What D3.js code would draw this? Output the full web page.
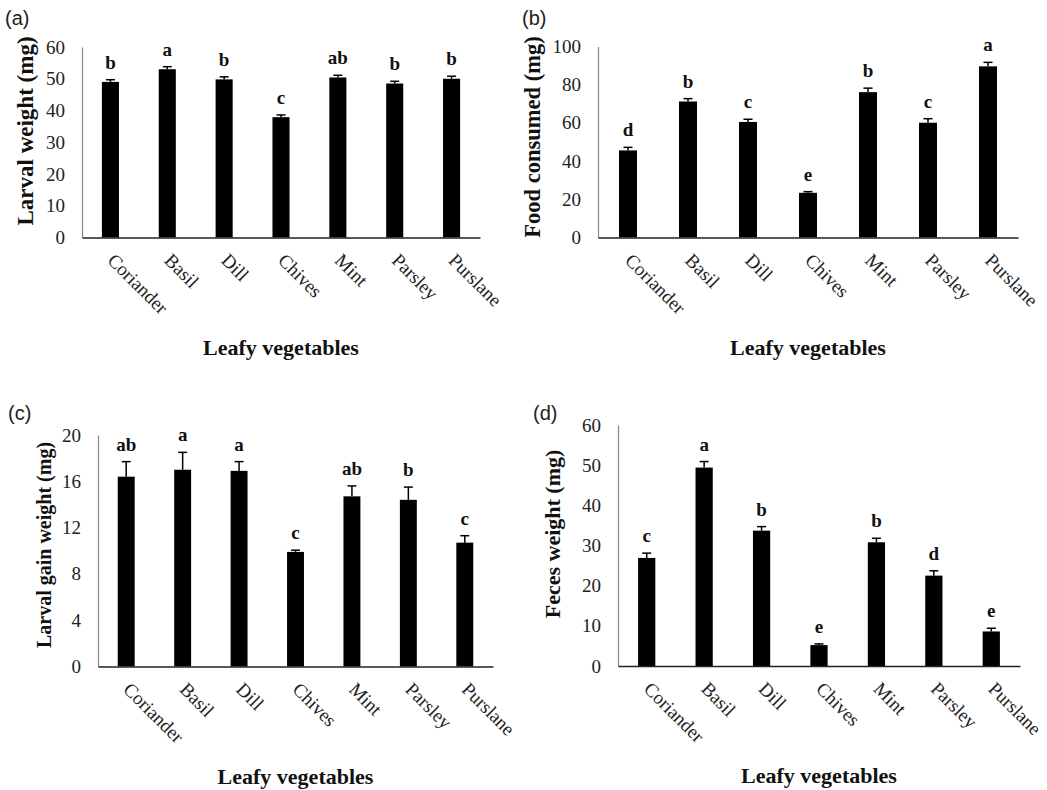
<!DOCTYPE html>
<html>
<head>
<meta charset="utf-8">
<script src="https://cdn.jsdelivr.net/npm/d3@7"></script>
<style>
  html, body { margin: 0; padding: 0; background: #fff; }
  svg { display: block; }
</style>
</head>
<body>
<svg id="chart" width="1047" height="790"></svg>
<script>
// ---------------- DATA ----------------
const categories = ["Coriander", "Basil", "Dill", "Chives", "Mint", "Parsley", "Purslane"];

const larvalWeight       = [49.0, 53.0, 49.8, 37.9, 50.4, 48.5, 50.0];
const larvalWeightErr    = [0.7, 0.8, 0.8, 0.7, 0.7, 0.7, 0.8];
const larvalWeightLetters = ["b", "a", "b", "c", "ab", "b", "b"];
const larvalWeightTicks  = [0, 10, 20, 30, 40, 50, 60];

const foodConsumed        = [45.6, 71.2, 60.5, 23.4, 76.1, 60.1, 89.6];
const foodConsumedErr     = [1.6, 1.5, 1.4, 0.6, 2.1, 2.1, 2.1];
const foodConsumedLetters = ["d", "b", "c", "e", "b", "c", "a"];
const foodConsumedTicks   = [0, 20, 40, 60, 80, 100];

const gainWeight        = [16.4, 17.0, 16.9, 9.9, 14.7, 14.4, 10.7];
const gainWeightErr     = [1.3, 1.5, 0.8, 0.15, 0.9, 1.1, 0.6];
const gainWeightLetters = ["ab", "a", "a", "c", "ab", "b", "c"];
const gainWeightTicks   = [0, 4, 8, 12, 16, 20];

const fecesWeight        = [26.9, 49.4, 33.7, 5.2, 30.8, 22.5, 8.6];
const fecesWeightErr     = [1.2, 1.5, 1.0, 0.3, 1.0, 1.2, 0.8];
const fecesWeightLetters = ["c", "a", "b", "e", "b", "d", "e"];
const fecesWeightTicks   = [0, 10, 20, 30, 40, 50, 60];

const xTitle = "Leafy vegetables";

// ---------------- LAYOUT ----------------
const SERIF = "'Liberation Serif', 'Times New Roman', serif";
const SANS = "'Liberation Sans', Arial, sans-serif";

const panels = [
  { tag: "(a)", tagX: 5, tagY: 25, x0: 82, x1: 480, yBase: 237.5, yTop: 47,
    values: larvalWeight, errs: larvalWeightErr, letters: larvalWeightLetters, ticks: larvalWeightTicks,
    yTitle: "Larval weight (mg)", yTitleX: 25, yTitleY: 131, yTitleSize: 23 },
  { tag: "(b)", tagX: 522, tagY: 25, x0: 598, x1: 1018, yBase: 237.5, yTop: 46.5,
    values: foodConsumed, errs: foodConsumedErr, letters: foodConsumedLetters, ticks: foodConsumedTicks,
    yTitle: "Food consumed (mg)", yTitleX: 532, yTitleY: 137, yTitleSize: 22.5 },
  { tag: "(c)", tagX: 8, tagY: 420, x0: 98, x1: 493, yBase: 666.5, yTop: 435,
    values: gainWeight, errs: gainWeightErr, letters: gainWeightLetters, ticks: gainWeightTicks,
    yTitle: "Larval gain weight (mg)", yTitleX: 44, yTitleY: 545, yTitleSize: 20 },
  { tag: "(d)", tagX: 533, tagY: 420, x0: 618, x1: 1020, yBase: 666, yTop: 425,
    values: fecesWeight, errs: fecesWeightErr, letters: fecesWeightLetters, ticks: fecesWeightTicks,
    yTitle: "Feces weight (mg)", yTitleX: 552, yTitleY: 534, yTitleSize: 22 }
];

const svg = d3.select("#chart");

panels.forEach(p => {
  const g = svg.append("g");
  const yMax = p.ticks[p.ticks.length - 1];

  const x = d3.scaleBand()
    .domain(categories)
    .range([p.x0, p.x1])
    .paddingInner(0.7)
    .paddingOuter(0.35);

  const y = d3.scaleLinear()
    .domain([0, yMax])
    .range([p.yBase, p.yTop]);

  const data = categories.map((c, i) => ({ c, v: p.values[i], e: p.errs[i], l: p.letters[i] }));

  // bars
  g.selectAll("rect.bar")
    .data(data)
    .join("rect")
    .attr("class", "bar")
    .attr("x", d => x(d.c))
    .attr("width", x.bandwidth())
    .attr("y", d => y(d.v))
    .attr("height", d => y(0) - y(d.v))
    .attr("fill", "#000");

  // error bars
  const capW = 9;
  g.selectAll("line.err")
    .data(data)
    .join("line")
    .attr("class", "err")
    .attr("x1", d => x(d.c) + x.bandwidth() / 2)
    .attr("x2", d => x(d.c) + x.bandwidth() / 2)
    .attr("y1", d => y(d.v))
    .attr("y2", d => y(d.v + d.e))
    .attr("stroke", "#000")
    .attr("stroke-width", 1.5);
  g.selectAll("line.cap")
    .data(data)
    .join("line")
    .attr("class", "cap")
    .attr("x1", d => x(d.c) + x.bandwidth() / 2 - capW / 2)
    .attr("x2", d => x(d.c) + x.bandwidth() / 2 + capW / 2)
    .attr("y1", d => y(d.v + d.e))
    .attr("y2", d => y(d.v + d.e))
    .attr("stroke", "#000")
    .attr("stroke-width", 1.5);

  // significance letters
  g.selectAll("text.letter")
    .data(data)
    .join("text")
    .attr("class", "letter")
    .attr("x", d => x(d.c) + x.bandwidth() / 2)
    .attr("y", d => y(d.v + d.e) - 11)
    .attr("text-anchor", "middle")
    .attr("font-family", SERIF)
    .attr("font-weight", "bold")
    .attr("font-size", 19)
    .attr("fill", "#111")
    .text(d => d.l);

  // y axis
  const yAxis = g.append("g")
    .attr("transform", `translate(${p.x0},0)`)
    .call(d3.axisLeft(y).tickValues(p.ticks).tickSize(0).tickPadding(17).tickFormat(d3.format("d")));
  yAxis.select(".domain").attr("stroke", "#888").attr("stroke-width", 1.2);
  yAxis.selectAll("text")
    .attr("font-family", SERIF)
    .attr("font-size", 19)
    .attr("fill", "#222");

  // x axis
  const xAxis = g.append("g")
    .attr("transform", `translate(0,${p.yBase})`)
    .call(d3.axisBottom(x).tickSize(0).tickPadding(0));
  xAxis.select(".domain").attr("stroke", "#222").attr("stroke-width", 1.5);
  xAxis.selectAll(".tick text")
    .attr("font-family", SERIF)
    .attr("font-size", 19)
    .attr("fill", "#222")
    .attr("text-anchor", "start")
    .attr("dy", null)
    .attr("x", null)
    .attr("y", null)
    .attr("transform", "translate(-4,24) rotate(45)");

  // x title
  g.append("text")
    .attr("x", (p.x0 + p.x1) / 2)
    .attr("y", p.yBase + 117)
    .attr("text-anchor", "middle")
    .attr("font-family", SERIF)
    .attr("font-weight", "bold")
    .attr("font-size", 22)
    .attr("fill", "#111")
    .text(xTitle);

  // y title
  g.append("text")
    .attr("transform", `translate(${p.yTitleX},${p.yTitleY}) rotate(-90)`)
    .attr("dy", "0.35em")
    .attr("text-anchor", "middle")
    .attr("font-family", SERIF)
    .attr("font-weight", "bold")
    .attr("font-size", p.yTitleSize)
    .attr("fill", "#111")
    .text(p.yTitle);

  // panel tag
  g.append("text")
    .attr("x", p.tagX)
    .attr("y", p.tagY)
    .attr("font-family", SANS)
    .attr("font-size", 20)
    .attr("fill", "#222")
    .text(p.tag);
});
</script>
</body>
</html>
